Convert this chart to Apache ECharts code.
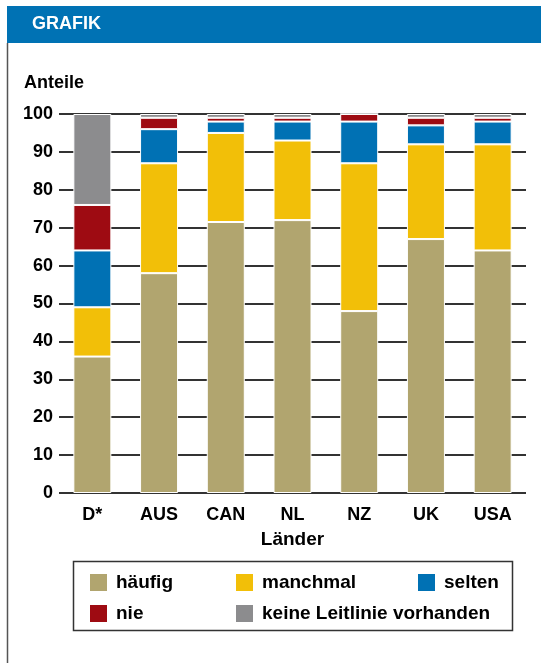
<!DOCTYPE html>
<html><head><meta charset="utf-8">
<script src="https://cdn.jsdelivr.net/npm/echarts@6/dist/echarts.min.js"></script>
<style>html,body{margin:0;padding:0;background:#fff}#c{width:541px;height:663px}</style>
</head><body><div id="c"></div>
<script>
var categories = ['D*', 'AUS', 'CAN', 'NL', 'NZ', 'UK', 'USA'];
var haeufig  = [36, 58, 71.5, 72, 48, 67, 64];
var manchmal = [13, 29, 23.5, 21, 39, 25, 28];
var selten   = [15, 9, 3, 5, 11, 5, 6];
var nie      = [12, 3, 1, 1, 2, 2, 1];
var keine    = [24, 1, 1, 1, 0, 1, 1];
var seriesNames = ['häufig', 'manchmal', 'selten', 'nie', 'keine Leitlinie vorhanden'];
var seriesData = [haeufig, manchmal, selten, nie, keine];
var colors = ['#b1a56f', '#f2bf08', '#0071b4', '#9e0b12', '#8c8c8e'];
var FONT = '"Liberation Sans", Arial, sans-serif';

var chart = echarts.init(document.getElementById('c'), null, {renderer: 'canvas'});
var series = seriesNames.map(function (n, i) {
  return {
    name: n, type: 'bar', stack: 'total', barWidth: 38,
    data: seriesData[i],
    itemStyle: {color: colors[i], borderColor: '#fff', borderWidth: 1}
  };
});
var legendCommon = {
  orient: 'vertical', top: 573, itemWidth: 17, itemHeight: 17, itemGap: 12,
  icon: 'rect', selectedMode: false, padding: 0, itemStyle: {borderWidth: 0},
  textStyle: {fontFamily: FONT, fontWeight: 'bold', fontSize: 19, color: '#000', padding: [0, 0, 0, 4]}
};
chart.setOption({
  animation: false,
  textStyle: {fontFamily: FONT},
  grid: {left: 59, right: 15, top: 114, bottom: 170},
  xAxis: {
    type: 'category', data: categories,
    axisLine: {show: false}, axisTick: {show: false},
    axisLabel: {fontFamily: FONT, fontWeight: 'bold', fontSize: 18, color: '#000', margin: 13},
    name: 'Länder', nameLocation: 'middle', nameGap: 37,
    nameTextStyle: {fontFamily: FONT, fontWeight: 'bold', fontSize: 19, color: '#000'}
  },
  yAxis: {
    type: 'value', min: 0, max: 100, interval: 10,
    axisLine: {show: false}, axisTick: {show: false},
    splitLine: {lineStyle: {color: '#333', width: 2}},
    axisLabel: {fontFamily: FONT, fontWeight: 'bold', fontSize: 18, color: '#000', margin: 6}
  },
  legend: [
    Object.assign({left: 90, data: ['häufig', 'nie']}, legendCommon),
    Object.assign({left: 236, data: ['manchmal', 'keine Leitlinie vorhanden']}, legendCommon),
    Object.assign({left: 418, data: ['selten']}, legendCommon)
  ],
  graphic: [
    {type: 'rect', shape: {x: 7, y: 6, width: 534, height: 37}, style: {fill: '#0072b4'}, z: 0},
    {type: 'line', shape: {x1: 7.5, y1: 43, x2: 7.5, y2: 663}, style: {stroke: '#555', lineWidth: 1.5}},
    {type: 'text', left: 32, top: 15, style: {text: 'GRAFIK', fill: '#fff', font: 'bold 18px ' + FONT}},
    {type: 'text', left: 24, top: 74, style: {text: 'Anteile', fill: '#000', font: 'bold 18px ' + FONT}},
    {type: 'rect', shape: {x: 73.5, y: 561.5, width: 439, height: 69}, style: {fill: 'none', stroke: '#333', lineWidth: 1.5}}
  ],
  series: series
});
</script></body></html>
